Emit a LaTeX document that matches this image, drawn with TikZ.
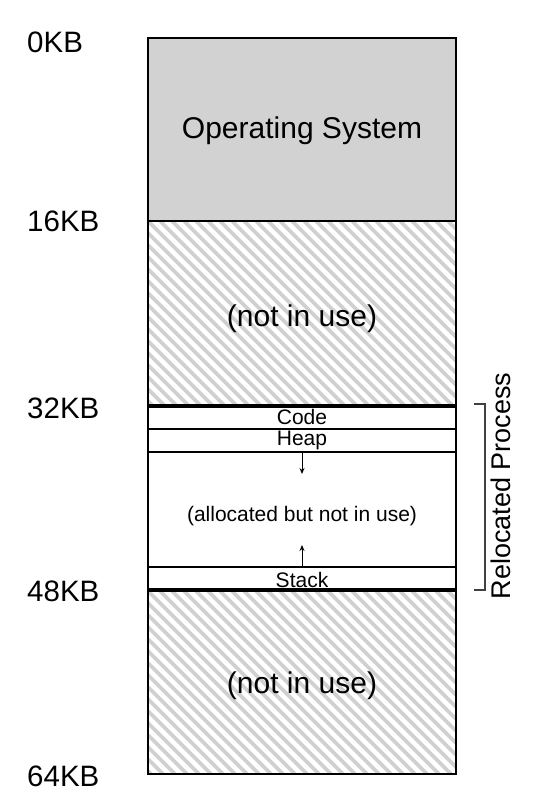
\documentclass[tikz,border=0pt]{standalone}
\usepackage{fontspec}
\setmainfont{Liberation Sans}
\usetikzlibrary{arrows.meta}
\definecolor{osgray}{HTML}{D2D2D2}
\definecolor{hatchgray}{HTML}{D0D0D0}
\begin{document}
\begin{tikzpicture}[x=1pt,y=-1pt,
  region/.style={draw=black, line width=1.3pt, rectangle, inner sep=0pt, outer sep=0pt,
    minimum width=308pt, anchor=north west},
  strip/.style={draw=black, line width=1.1pt, rectangle, inner sep=0pt, outer sep=0pt,
    minimum width=308pt, anchor=north west},
  hatched/.style={path picture={
      \foreach \k in {-60,...,30}
        \draw[hatchgray, line width=3.8pt] ([xshift=\k*12pt]path picture bounding box.north west) -- ++(900,900);}},
  big/.style={font=\fontsize{30}{36}\selectfont},
  small/.style={font=\fontsize{21}{25}\selectfont},
  kb/.style={anchor=west, inner sep=0pt, font=\fontsize{29.5}{34}\selectfont},
  growarrow/.style={-{Stealth[length=6pt,width=5pt]}, line width=1pt},
]
\useasboundingbox (0,0) rectangle (546,810);

% regions
\node[region, fill=osgray, minimum height=183pt] (os) at (148,38) {};
\node[big] (ostext) at (302,131) {Operating System};
\node[region, hatched, minimum height=184pt] (free1) at (148,221) {};
\node[big] (free1text) at (302,319) {(not in use)};
\node[strip, minimum height=22pt] (code) at (148,407) {};
\node[small] (codetext) at (302,417) {Code};
\node[strip, minimum height=23pt] (heap) at (148,429) {};
\node[small] (heaptext) at (302,440) {Heap};
\node[strip, draw=none, minimum height=115pt] (alloc) at (148,452) {};
\node[small] (alloctext) at (302,516) {(allocated but not in use)};
\node[strip, minimum height=22pt] (stack) at (148,567) {};
\node[small] (stacktext) at (302,580) {Stack};
\draw[line width=1.1pt] (alloc.north west) -- (alloc.south west);
\draw[line width=1.1pt] (alloc.north east) -- (alloc.south east);
\node[region, hatched, minimum height=183pt] (free2) at (148,591) {};
\node[big] (free2text) at (302,686) {(not in use)};

% growth arrows
\coordinate (heapend) at (302,474);
\coordinate (stackend) at (302,545);
\draw[growarrow] (heap.south) -- (heapend);
\draw[growarrow] (stack.north) -- (stackend);

% address labels
\node[kb] (l0) at (27,42) {0KB};
\node[kb] (l16) at (27,221) {16KB};
\node[kb] (l32) at (27,408) {32KB};
\node[kb] (l48) at (27,591) {48KB};
\node[kb] (l64) at (27,776) {64KB};

% bracket
\coordinate (bt) at (474,404);
\coordinate (bb) at (474,590);
\draw[line width=1.2pt, black!75] (bt) -- ++(11,0) |- (bb);
\node[rotate=90, font=\fontsize{27}{32}\selectfont] (rp) at (501,486) {Relocated Process};
\end{tikzpicture}
\end{document}
